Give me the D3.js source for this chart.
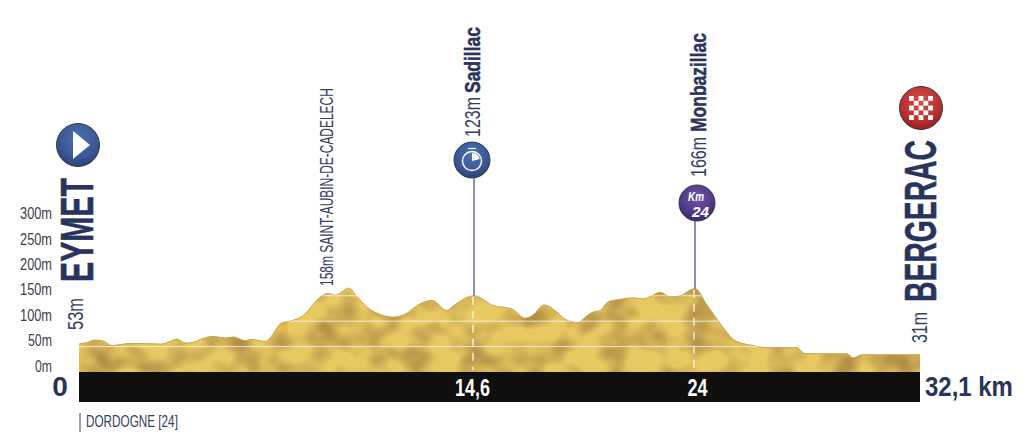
<!DOCTYPE html>
<html>
<head>
<meta charset="utf-8">
<script src="https://cdn.jsdelivr.net/npm/d3@7"></script>
<style>
  html, body { margin: 0; background: #fff; }
  svg { display: block; }
  text { font-family: "Liberation Sans", sans-serif; }
</style>
</head>
<body>
<div id="chart"></div>
<script>
// profil : distance (km) / altitude (m)
const profileKm = [0, 0.3, 0.59, 0.89, 1.22, 1.52, 1.81, 2.33, 3.07, 3.36, 3.62, 3.92, 4.18, 4.58, 4.95, 5.4, 5.69, 6.14, 6.4, 6.88, 7.06, 7.47, 7.87, 8.28, 8.91, 9.21, 9.46, 9.98, 10.28, 10.76, 11.05, 11.61, 12.13, 12.5, 13.05, 13.6, 13.83, 14.6, 15.41, 16.22, 16.77, 17.11, 17.58, 18.13, 18.47, 19.02, 19.41, 19.66, 19.96, 20.3, 20.81, 21.36, 21.79, 22.17, 22.51, 22.94, 23.28, 24, 24.43, 24.9, 25.44, 26.09, 26.59, 27.67, 27.96, 29.47, 29.69, 30.01, 32.1];
const profileAlt = [55, 58, 63, 61, 52, 54, 56, 56, 55, 60, 65, 57, 58, 66, 70, 67, 69, 62, 64, 60, 67, 96, 101, 111, 147, 155, 151, 165, 148, 123, 115, 108, 116, 131, 141, 121, 130, 150, 131, 124, 106, 112, 132, 118, 104, 97, 111, 118, 121, 138, 143, 146, 144, 150, 157, 148, 149, 164, 132, 96, 62, 52, 48, 48, 36, 36, 28, 34, 34];
const altTicks = [0, 50, 100, 150, 200, 250, 300];
const gridAlts = [50, 100, 150];
const kmTicks = [14.6, 24];
const kmTickLabels = ["14,6", "24"];
const stemKm = [14.6, 24];
const stemTop = [178, 221];

const width = 1024, height = 446;
const navy = "#28345c", slate = "#33405f", grey = "#3c3f49";

// the original is not to scale: checkpoints are placed by hand
const x = d3.scaleLinear().domain([0, 14.6, 24, 32.1]).range([79, 474, 695, 920]);
const y = d3.scaleLinear().domain([0, 300]).range([372, 219.6]);

const svg = d3.select("#chart").append("svg").attr("width", width).attr("height", height);
const defs = svg.append("defs");

const area = d3.area().curve(d3.curveMonotoneX).x((d) => x(d[0])).y0(y(0)).y1((d) => y(d[1]));
const profile = d3.zip(profileKm, profileAlt);

// no narrow font installed: squeeze each text to its measured length
function squeeze(node, len, base) {
  const k = len / node.getComputedTextLength();
  d3.select(node).attr("transform", `${base || ""} scale(${k},1)`);
}

defs.append("clipPath").attr("id", "profile-clip")
  .append("path").attr("d", area(profile));

// relief texture
const relief = defs.append("filter").attr("id", "relief")
  .attr("x", 0).attr("y", 0).attr("width", 1).attr("height", 1)
  .attr("color-interpolation-filters", "sRGB");
relief.append("feTurbulence").attr("type", "fractalNoise")
  .attr("baseFrequency", "0.035 0.04").attr("numOctaves", 2).attr("seed", 11).attr("result", "n");
relief.append("feColorMatrix").attr("in", "n").attr("type", "matrix")
  .attr("values", "0 0 0 0 0.70  0 0 0 0 0.56  0 0 0 0 0.28  2.4 0 0 0 -0.95").attr("result", "shade");
relief.append("feComposite").attr("in", "shade").attr("in2", "SourceGraphic").attr("operator", "in");

function ball(id, light, mid, dark) {
  const g = defs.append("radialGradient").attr("id", id)
    .attr("cx", "50%").attr("cy", "35%").attr("r", "70%");
  g.append("stop").attr("offset", "0%").attr("stop-color", light);
  g.append("stop").attr("offset", "65%").attr("stop-color", mid);
  g.append("stop").attr("offset", "100%").attr("stop-color", dark);
}
ball("ball-blue", "#4f71ae", "#3a5795", "#243a70");
ball("ball-red", "#d4504f", "#b92f30", "#8a1b1e");
ball("ball-purple", "#6f54a6", "#523889", "#33205f");

// terrain
svg.append("path").attr("d", area(profile)).attr("fill", "#e8c860");
svg.append("g").attr("clip-path", "url(#profile-clip)")
  .append("rect").attr("x", x(0)).attr("y", 280).attr("width", x(32.1) - x(0)).attr("height", 92)
  .attr("fill", "#fff").attr("filter", "url(#relief)");

// top edge, slightly darker
svg.append("path")
  .attr("d", d3.line().curve(d3.curveMonotoneX).x((d) => x(d[0])).y((d) => y(d[1]))(profile))
  .attr("fill", "none").attr("stroke", "#c9a64e").attr("stroke-width", 1);

// lignes d'altitude
svg.append("g").attr("clip-path", "url(#profile-clip)")
  .selectAll("line").data(gridAlts).enter().append("line")
  .attr("x1", x(0)).attr("x2", x(32.1))
  .attr("y1", (d) => y(d)).attr("y2", (d) => y(d))
  .attr("stroke", "#fff").attr("stroke-opacity", 0.75).attr("stroke-width", 1);

// pointillés sous les points de passage
svg.selectAll(".drop").data(stemKm).enter().append("line")
  .attr("class", "drop")
  .attr("x1", (d) => x(d) - 1).attr("x2", (d) => x(d) - 1)
  .attr("y1", (d) => y(profileAlt[profileKm.indexOf(d)]) + 1).attr("y2", y(0) - 2)
  .attr("stroke", "#fff").attr("stroke-width", 1.2).attr("stroke-dasharray", "8 6");

// tiges
svg.selectAll(".stem").data(stemKm).enter().append("line")
  .attr("class", "stem")
  .attr("x1", (d) => x(d)).attr("x2", (d) => x(d))
  .attr("y1", (d, i) => stemTop[i]).attr("y2", (d) => y(profileAlt[profileKm.indexOf(d)]))
  .attr("stroke", "#4d5a80").attr("stroke-width", 1.3);

// bande noire
svg.append("rect").attr("x", x(0)).attr("y", y(0)).attr("width", x(32.1) - x(0)).attr("height", 30)
  .attr("fill", "#100f0d");

// axe altitude
const altAxis = svg.append("g")
  .attr("transform", `translate(52,-6)`)
  .attr("font-family", null)
  .call(d3.axisLeft(y).tickValues(altTicks).tickSize(0).tickFormat((d) => d + "m"));
altAxis.attr("font-family", null);
altAxis.select(".domain").remove();
altAxis.selectAll("text")
  .attr("x", 0).attr("fill", grey).style("font-size", "16px")
  .each(function (d) {
    squeeze(this, d === 0 ? 17 : d === 50 ? 24 : 32);
  });

// axe km, dans la bande
const kmAxis = svg.append("g")
  .attr("transform", `translate(0,${y(0)})`)
  .call(d3.axisBottom(x).tickValues(kmTicks).tickSize(0).tickFormat((d, i) => kmTickLabels[i]));
kmAxis.attr("font-family", null);
kmAxis.select(".domain").remove();
kmAxis.selectAll("text")
  .attr("y", 0).attr("dy", 0)
  .attr("fill", "#fff").style("font-size", "23px").style("font-weight", "bold")
  .each(function (d, i) {
    squeeze(this, i === 0 ? 35 : 20, `translate(${i === 0 ? -2 : 2},24)`);
  });

svg.append("text").attr("x", 60).attr("y", 396).attr("text-anchor", "middle")
  .attr("fill", navy).style("font-size", "28px").style("font-weight", "bold").text("0");
svg.append("text")
  .attr("fill", navy).style("font-size", "28px").style("font-weight", "bold").text("32,1 km")
  .each(function () { squeeze(this, 88, "translate(925,396)"); });

// textes verticaux
const verticalX = [93, 83, 333, 480, 480, 706, 706, 935.5, 927];
const verticalY = [282, 330, 286, 137, 93, 177, 132, 302, 343];
const verticalText = ["EYMET", "53m", "158m SAINT-AUBIN-DE-CADELECH", "123m", "Sadillac", "166m", "Monbazillac", "BERGERAC", "31m"];
const verticalSize = [46, 22, 18.5, 22, 22, 22, 22, 45, 22];
const verticalLen = [104, 32, 198, 40, 66, 40, 99, 162, 31];
const verticalBold = [1, 0, 0, 0, 1, 0, 1, 1, 0];

svg.selectAll(".vertical").data(verticalText).enter().append("text")
  .attr("class", "vertical")
  .attr("fill", (d, i) => (verticalBold[i] ? navy : slate))
  .attr("stroke", (d, i) => (verticalBold[i] ? navy : "none"))
  .attr("stroke-width", 0.5)
  .style("font-size", (d, i) => verticalSize[i] + "px")
  .style("font-weight", (d, i) => (verticalBold[i] ? "bold" : "normal"))
  .text((d) => d)
  .each(function (d, i) {
    squeeze(this, verticalLen[i], `translate(${verticalX[i]},${verticalY[i]}) rotate(-90)`);
  });

// département
svg.append("line").attr("x1", 80).attr("x2", 80).attr("y1", 413).attr("y2", 432)
  .attr("stroke", slate).attr("stroke-width", 1);
svg.append("text").attr("fill", slate)
  .style("font-size", "17px").text("DORDOGNE [24]")
  .each(function () { squeeze(this, 92, "translate(86,427)"); });

// pastilles
function marker(cx, cy, r, fill) {
  const g = svg.append("g").attr("transform", `translate(${cx},${cy})`);
  g.append("circle").attr("r", r).attr("fill", `url(#${fill})`)
    .attr("stroke", "#3a3a40").attr("stroke-width", 1);
  return g;
}

const start = marker(78, 145, 21.5, "ball-blue");
start.append("path").attr("d", "M-5,-14 L12,0 L-5,14 Z").attr("fill", "#fff");

const finish = marker(921, 108, 21.5, "ball-red");
const cell = 4.8;
finish.selectAll("rect").data(d3.range(25).filter((i) => (i % 5 + Math.floor(i / 5)) % 2 === 0))
  .enter().append("rect")
  .attr("x", (d) => (d % 5) * cell - 2.5 * cell)
  .attr("y", (d) => Math.floor(d / 5) * cell - 2.5 * cell)
  .attr("width", cell).attr("height", cell).attr("fill", "#fff");

const watch = marker(472, 160, 18, "ball-blue");
watch.append("circle").attr("cy", 1).attr("r", 9.5).attr("fill", "none").attr("stroke", "#fff").attr("stroke-width", 1.4);
watch.append("path").attr("d", d3.arc().innerRadius(0).outerRadius(8)(
  { startAngle: 0, endAngle: Math.PI / 2.4 })).attr("transform", "translate(0,1)").attr("fill", "#fff");
watch.append("line").attr("x1", -4).attr("x2", 4).attr("y1", -11.5).attr("y2", -11.5).attr("stroke", "#fff").attr("stroke-width", 1.2);

const km = marker(697, 203, 18, "ball-purple");
km.append("text").attr("fill", "#fff")
  .style("font-size", "13px").style("font-weight", "bold").style("font-style", "italic").text("Km")
  .each(function () { squeeze(this, 16, "translate(-9,-2)"); });
km.append("text").attr("fill", "#fff")
  .style("font-size", "14px").style("font-weight", "bold").style("font-style", "italic").text("24")
  .each(function () { squeeze(this, 17, "translate(-5,14)"); });
</script>
</body>
</html>
